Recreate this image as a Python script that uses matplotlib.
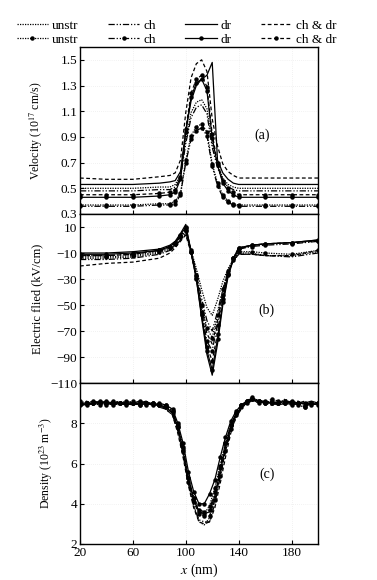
import matplotlib
matplotlib.use("Agg")
import matplotlib.pyplot as plt

plt.rcParams["font.family"] = ["Liberation Serif", "DejaVu Serif"]
plt.rcParams["mathtext.fontset"] = "stix"

# -----------------------------
# Data
# -----------------------------
series = ["unstr", "ch", "dr", "ch & dr"]

# (a) velocity, 10^17 cm/s
x_v = [20, 40, 60, 80, 88, 92, 96, 100, 104, 108, 112, 116, 120, 124, 128, 132, 136, 140, 160, 180, 200]
v_unstr = [0.50, 0.50, 0.50, 0.51, 0.51, 0.53, 0.60, 0.88, 1.09, 1.17, 1.19, 1.12, 0.85, 0.69, 0.58, 0.53, 0.51, 0.50, 0.50, 0.50, 0.50]
v_ch = [0.48, 0.48, 0.48, 0.49, 0.49, 0.51, 0.58, 0.85, 1.05, 1.13, 1.15, 1.08, 0.82, 0.66, 0.56, 0.51, 0.49, 0.48, 0.48, 0.48, 0.48]
v_dr = [0.53, 0.53, 0.53, 0.54, 0.55, 0.56, 0.63, 0.95, 1.18, 1.30, 1.35, 1.38, 1.48, 0.72, 0.62, 0.57, 0.54, 0.53, 0.53, 0.53, 0.53]
v_chdr = [0.58, 0.57, 0.57, 0.59, 0.60, 0.62, 0.72, 1.09, 1.36, 1.47, 1.50, 1.41, 1.04, 0.83, 0.69, 0.63, 0.60, 0.58, 0.58, 0.58, 0.58]
v_unstr_m = [0.37, 0.37, 0.37, 0.38, 0.38, 0.40, 0.46, 0.72, 0.91, 0.98, 1.00, 0.94, 0.69, 0.54, 0.45, 0.40, 0.38, 0.37, 0.37, 0.37, 0.37]
v_ch_m = [0.36, 0.36, 0.36, 0.37, 0.37, 0.38, 0.45, 0.70, 0.88, 0.95, 0.97, 0.91, 0.67, 0.52, 0.43, 0.39, 0.37, 0.36, 0.36, 0.36, 0.36]
v_dr_m = [0.43, 0.43, 0.43, 0.44, 0.45, 0.47, 0.57, 0.94, 1.21, 1.32, 1.35, 1.26, 0.89, 0.68, 0.54, 0.48, 0.45, 0.43, 0.43, 0.43, 0.43]
v_chdr_m = [0.45, 0.45, 0.45, 0.46, 0.47, 0.49, 0.59, 0.96, 1.24, 1.35, 1.38, 1.29, 0.92, 0.70, 0.56, 0.50, 0.47, 0.45, 0.45, 0.45, 0.45]

# (b) electric field, kV/cm
x_e = [20, 40, 60, 80, 88, 92, 96, 100, 104, 108, 112, 116, 120, 124, 128, 132, 136, 140, 150, 160, 180, 200]
e_unstr = [-14, -14, -13, -10, -7, -4, 0, 4, -8, -22, -38, -52, -58, -46, -32, -22, -15, -10, -10, -12, -12, -9]
e_ch = [-15, -15, -14, -11, -8, -5, 0, 6, -8, -25, -45, -62, -70, -55, -38, -24, -16, -11, -11, -12, -13, -10]
e_dr = [-10, -10, -9, -7, -4, -1, 5, 12, -10, -30, -60, -88, -104, -80, -50, -28, -15, -7, -4, -3, -2, 0]
e_chdr = [-20, -18, -17, -14, -10, -6, -1, 4, -10, -28, -52, -72, -80, -62, -40, -25, -16, -11, -11, -12, -12, -8]
e_unstr_m = [-13, -13, -12, -9, -6, -3, 2, 7, -9, -27, -50, -68, -75, -58, -38, -24, -15, -9, -9, -10, -11, -8]
e_ch_m = [-12, -12, -11, -8, -5, -2, 3, 8, -9, -28, -55, -78, -85, -65, -42, -26, -14, -7, -5, -4, -3, -1]
e_dr_m = [-11, -11, -10, -8, -5, -2, 4, 10, -8, -30, -58, -85, -100, -76, -48, -27, -14, -6, -4, -3, -2, 0]
e_chdr_m = [-12, -12, -11, -8, -5, -2, 3, 9, -9, -29, -57, -82, -93, -72, -45, -26, -14, -6, -4, -3, -2, -1]

# (c) density, 10^23 m^-3
x_n = [20, 25, 30, 35, 40, 45, 50, 55, 60, 65, 70, 75, 80, 85,
       90, 94, 98, 102, 106, 110, 114, 118, 122, 126, 130, 134, 138, 142, 146,
       150, 155, 160, 165, 170, 175, 180, 185, 190, 195, 200]
n_unstr = [8.9, 9.0, 8.9, 9.1, 9.0, 9.0, 8.9, 9.1, 9.0, 8.9, 9.0, 8.9, 8.9, 8.8,
           8.5, 7.7, 6.5, 5.0, 3.9, 3.1, 2.95, 3.3, 4.3, 5.6, 6.8, 7.8, 8.4, 8.8, 9.0,
           9.2, 9.1, 9.0, 9.1, 9.0, 9.2, 9.0, 8.9, 9.0, 8.9, 9.0]
n_ch = [8.8, 9.0, 9.1, 9.0, 8.9, 9.1, 9.0, 8.9, 9.0, 9.0, 8.9, 9.0, 8.8, 8.7,
        8.4, 7.6, 6.4, 5.0, 3.9, 3.2, 3.1, 3.1, 4.0, 5.3, 6.6, 7.6, 8.3, 8.7, 9.0,
        9.3, 9.1, 9.0, 8.9, 9.1, 9.0, 9.0, 9.1, 8.9, 9.0, 8.9]
n_dr = [9.0, 8.9, 9.0, 9.0, 9.1, 8.9, 9.0, 9.0, 8.9, 9.0, 9.1, 8.9, 8.9, 8.8,
        8.5, 7.8, 6.6, 5.2, 4.2, 3.6, 3.5, 3.6, 4.4, 5.6, 6.8, 7.8, 8.4, 8.8, 9.1,
        9.2, 9.0, 9.1, 9.0, 8.9, 9.0, 9.1, 9.0, 9.0, 9.1, 9.0]
n_chdr = [8.9, 9.1, 8.9, 9.0, 9.0, 9.0, 9.1, 8.9, 9.0, 9.0, 8.9, 9.0, 8.9, 8.7,
          8.4, 7.5, 6.3, 4.9, 3.8, 3.1, 3.0, 3.1, 3.8, 5.0, 6.3, 7.5, 8.3, 8.8, 9.0,
          9.1, 9.2, 9.0, 9.0, 9.1, 8.9, 9.0, 9.0, 9.1, 8.9, 9.0]
n_unstr_m = [9.1, 9.0, 9.0, 8.9, 9.1, 9.0, 9.0, 9.1, 9.0, 9.0, 8.9, 9.0, 8.9, 8.9,
             8.6, 7.9, 6.8, 5.3, 4.3, 3.6, 3.5, 3.9, 4.8, 5.9, 7.0, 7.9, 8.5, 8.9, 9.1,
             9.3, 9.1, 9.0, 9.1, 9.0, 9.0, 9.1, 8.9, 8.8, 9.0, 8.9]
n_ch_m = [9.0, 9.0, 9.1, 9.0, 9.0, 8.9, 9.0, 9.0, 9.1, 8.9, 9.0, 9.0, 8.9, 8.8,
          8.6, 7.8, 6.7, 5.3, 4.3, 3.7, 3.6, 3.7, 4.6, 5.8, 7.0, 7.9, 8.5, 8.9, 9.1,
          9.2, 9.0, 9.0, 9.2, 9.1, 9.0, 8.9, 9.0, 8.8, 9.0, 9.0]
n_dr_m = [9.0, 8.9, 9.0, 9.1, 9.0, 9.0, 9.0, 8.9, 9.0, 9.1, 9.0, 8.9, 9.0, 8.9,
          8.7, 8.0, 7.0, 5.6, 4.6, 4.0, 4.0, 4.5, 5.2, 6.3, 7.3, 8.1, 8.6, 8.9, 9.1,
          9.2, 9.1, 9.0, 9.0, 9.0, 9.1, 9.0, 9.0, 9.0, 8.9, 9.0]
n_chdr_m = [8.9, 9.0, 9.0, 9.0, 8.9, 9.1, 9.0, 9.0, 9.0, 8.9, 9.0, 9.0, 8.9, 8.8,
            8.5, 7.8, 6.6, 5.1, 4.1, 3.5, 3.4, 3.4, 4.2, 5.4, 6.6, 7.7, 8.4, 8.8, 9.0,
            9.2, 9.1, 9.1, 9.0, 9.0, 9.1, 9.0, 9.0, 8.9, 9.0, 9.0]

vel = [v_unstr, v_ch, v_dr, v_chdr]
vel_m = [v_unstr_m, v_ch_m, v_dr_m, v_chdr_m]
ef = [e_unstr, e_ch, e_dr, e_chdr]
ef_m = [e_unstr_m, e_ch_m, e_dr_m, e_chdr_m]
den = [n_unstr, n_ch, n_dr, n_chdr]
den_m = [n_unstr_m, n_ch_m, n_dr_m, n_chdr_m]

# -----------------------------
# Styles
# -----------------------------
styles = [(0, (1, 1)), (0, (5, 1.5, 1, 1.5, 1, 1.5)), "-", (0, (3, 2))]
LW = 0.9

fig = plt.figure(figsize=(3.77, 5.80), dpi=100)
L, R = 80 / 377, 318 / 377
ax_a = fig.add_axes([L, 1 - 214 / 580, R - L, 167 / 580])
ax_b = fig.add_axes([L, 1 - 383 / 580, R - L, 169 / 580])
ax_c = fig.add_axes([L, 1 - 544 / 580, R - L, 161 / 580])

handles = []
for ax, xs, plain, marked in [(ax_a, x_v, vel, vel_m), (ax_b, x_e, ef, ef_m), (ax_c, x_n, den, den_m)]:
    hs = []
    for i, name in enumerate(series):
        h1, = ax.plot(xs, plain[i], color="black", lw=LW, linestyle=styles[i], label=name)
        h2, = ax.plot(xs, marked[i], color="black", lw=LW, linestyle=styles[i],
                      marker="o", markersize=2.2, label=name)
        hs.append((h1, h2))
    handles = hs

for ax in (ax_a, ax_b, ax_c):
    ax.set_xlim(20, 200)
    ax.set_xticks([20, 60, 100, 140, 180])
    ax.tick_params(direction="in", length=3, width=0.8, labelsize=9.5, pad=2)
    ax.grid(True, color="#e6e6e6", linewidth=0.5, linestyle=(0, (1, 2)))
    for s in ax.spines.values():
        s.set_linewidth(1.0)

ax_a.set_ylim(0.3, 1.6)
ax_a.set_yticks([0.3, 0.5, 0.7, 0.9, 1.1, 1.3, 1.5])
ax_a.set_yticklabels(["0.3", "0.5", "0.7", "0.9", "1.1", "1.3", "1.5"])
ax_a.tick_params(labelbottom=False)
ax_a.set_ylabel("Velocity (10$^{17}$ cm/s)", fontsize=8.5)
ax_a.text(0.765, 0.47, "(a)", transform=ax_a.transAxes, fontsize=10, ha="center", va="center")

ax_b.set_ylim(-110, 20)
ax_b.set_yticks([10, -10, -30, -50, -70, -90, -110])
ax_b.tick_params(labelbottom=False)
ax_b.set_ylabel("Electric flied (kV/cm)", fontsize=9)
ax_b.text(0.785, 0.43, "(b)", transform=ax_b.transAxes, fontsize=10, ha="center", va="center")

ax_c.set_ylim(2, 10)
ax_c.set_yticks([2, 4, 6, 8])
ax_c.set_ylabel("Density (10$^{23}$ m$^{-3}$)", fontsize=8.5)
ax_c.set_xlabel("$x$ (nm)", fontsize=10, labelpad=2)
ax_c.text(0.785, 0.435, "(c)", transform=ax_c.transAxes, fontsize=10, ha="center", va="center")

ax_a.yaxis.set_label_coords(-0.147, 0.5)
ax_b.yaxis.set_label_coords(-0.155, 0.5)
ax_c.yaxis.set_label_coords(-0.105, 0.5)

# legend: two rows, plain on top, with markers below
leg_handles = []
leg_labels = []
for i, name in enumerate(series):
    leg_handles += [handles[i][0], handles[i][1]]
    leg_labels += [name, name]
fig.legend(leg_handles, leg_labels, ncol=4, loc="upper left", bbox_to_anchor=(0.03, 0.975),
           frameon=False, fontsize=9.5, handlelength=2.4, handletextpad=0.3,
           columnspacing=2.2, labelspacing=0.1, borderaxespad=0)

fig.savefig("out.png", dpi=100)
